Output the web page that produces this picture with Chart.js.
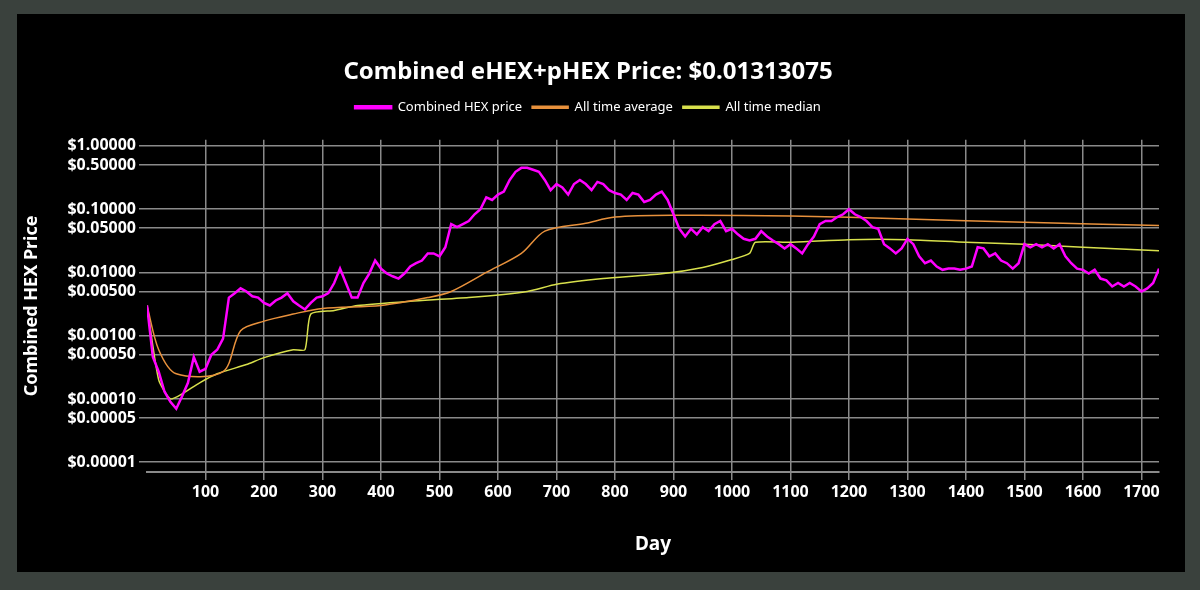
<!DOCTYPE html>
<html>
<head>
<script src="https://cdn.jsdelivr.net/npm/chart.js@4/dist/chart.umd.min.js"></script>
<style>
  body { margin: 0; background: #3a413d; }
  #panel { position: absolute; left: 17px; top: 14px; width: 1168px; height: 558px; background: #000; }
</style>
</head>
<body>
<div id="panel"><canvas id="c" width="1168" height="558"></canvas></div>
<script>
// price sampled every 10 days
const priceDays = [];
for (let d = 0; d <= 1730; d += 10) priceDays.push(d);
const price = [0.003, 0.00046, 0.00027, 0.00013, 0.00009, 0.00007, 0.00011, 0.00018, 0.00046, 0.00027,
  0.0003, 0.0005, 0.0006, 0.0009, 0.004, 0.0047, 0.0056, 0.005, 0.0042, 0.004,
  0.0033, 0.003, 0.0036, 0.004, 0.0047, 0.0035, 0.003, 0.0026, 0.0033, 0.004,
  0.0042, 0.0047, 0.0068, 0.0115, 0.0068, 0.004, 0.004, 0.0068, 0.0096, 0.0154,
  0.0115, 0.0096, 0.0087, 0.008, 0.0096, 0.0124, 0.014, 0.0154, 0.02, 0.02,
  0.018, 0.025, 0.058, 0.052, 0.058, 0.065, 0.083, 0.1, 0.154, 0.14,
  0.17, 0.19, 0.29, 0.39, 0.45, 0.45, 0.42, 0.39, 0.29, 0.2,
  0.25, 0.22, 0.17, 0.25, 0.29, 0.25, 0.2, 0.27, 0.25, 0.2,
  0.18, 0.17, 0.14, 0.18, 0.17, 0.13, 0.14, 0.17, 0.19, 0.14,
  0.083, 0.049, 0.037, 0.049, 0.04, 0.052, 0.045, 0.058, 0.065, 0.045,
  0.049, 0.04, 0.034, 0.032, 0.034, 0.045, 0.037, 0.032, 0.028, 0.024,
  0.028, 0.024, 0.02, 0.028, 0.037, 0.058, 0.065, 0.065, 0.075, 0.083,
  0.1, 0.083, 0.075, 0.065, 0.052, 0.049, 0.028, 0.024, 0.02, 0.024,
  0.034, 0.028, 0.018, 0.014, 0.0154, 0.0124, 0.011, 0.0115, 0.0115, 0.011,
  0.0115, 0.0124, 0.025, 0.024, 0.018, 0.02, 0.0154, 0.014, 0.0115, 0.014,
  0.028, 0.025, 0.028, 0.025, 0.028, 0.024, 0.028, 0.018, 0.014, 0.0115,
  0.011, 0.0096, 0.011, 0.008, 0.0075, 0.006, 0.0068, 0.006, 0.0068, 0.006,
  0.005, 0.0056, 0.0068, 0.0115];

const avgDays = [0, 20, 50, 130, 160, 200, 250, 300, 400, 480, 520, 580, 640, 680, 750, 800, 900, 1100, 1300, 1500, 1730];
const avg = [0.003, 0.0006, 0.00025, 0.00027, 0.0012, 0.0017, 0.0022, 0.0027, 0.003, 0.004, 0.005, 0.01, 0.02, 0.045, 0.06, 0.075, 0.08, 0.078, 0.07, 0.062, 0.055];

const medDays = [0, 20, 40, 60, 90, 120, 170, 200, 250, 270, 280, 320, 360, 450, 550, 650, 700, 780, 880, 950, 1000, 1030, 1040, 1100, 1200, 1300, 1400, 1500, 1600, 1730];
const median = [0.003, 0.0002, 0.0001, 0.00012, 0.00018, 0.00025, 0.00035, 0.00045, 0.0006, 0.0006, 0.0022, 0.0025, 0.003, 0.0035, 0.004, 0.005, 0.0065, 0.008, 0.0095, 0.012, 0.016, 0.02, 0.03, 0.03, 0.033, 0.033, 0.03, 0.028, 0.025, 0.022];

const yTicks = [1, 0.5, 0.1, 0.05, 0.01, 0.005, 0.001, 0.0005, 0.0001, 0.00005, 0.00001];
const xTicks = [100, 200, 300, 400, 500, 600, 700, 800, 900, 1000, 1100, 1200, 1300, 1400, 1500, 1600, 1700];

const pts = (xs, ys) => xs.map((x, i) => ({ x: x, y: ys[i] }));
const FONT = "'Noto Sans', sans-serif";

const legendGap = {
  id: 'legendGap',
  beforeInit(chart) {
    const fit = chart.legend.fit;
    chart.legend.fit = function () { fit.call(this); this.height += 16; };
  }
};

new Chart("c", {
  type: 'line',
  data: {
    datasets: [
      { label: 'Combined HEX price', data: pts(priceDays, price), borderColor: '#ff00ff', backgroundColor: '#ff00ff', borderWidth: 2.5, pointRadius: 0 },
      { label: 'All time average', data: pts(avgDays, avg), borderColor: '#e8913c', backgroundColor: '#e8913c', borderWidth: 1.5, pointRadius: 0, tension: 0.3 },
      { label: 'All time median', data: pts(medDays, median), borderColor: '#d8e04c', backgroundColor: '#d8e04c', borderWidth: 1.5, pointRadius: 0, tension: 0.2 }
    ]
  },
  options: {
    responsive: false,
    animation: false,
    layout: { padding: { top: 44, right: 26, bottom: 12 } },
    plugins: {
      title: { display: true, text: 'Combined eHEX+pHEX Price: $0.01313075', color: '#fff', font: { family: FONT, size: 24, weight: 'bold' }, padding: { bottom: 4 } },
      legend: { labels: { color: '#fff', font: { family: FONT, size: 13 }, boxWidth: 36, boxHeight: 2 } }
    },
    scales: {
      x: {
        type: 'linear', min: 0, max: 1730,
        afterBuildTicks: s => { s.ticks = xTicks.map(v => ({ value: v })); },
        ticks: { color: '#fff', font: { family: FONT, size: 16, weight: 'bold' }, callback: v => String(v) },
        grid: { color: '#8a8a8a', lineWidth: 1.5 },
        border: { color: '#8a8a8a', width: 2 },
        title: { display: true, text: 'Day', color: '#fff', font: { family: FONT, size: 19, weight: 'bold' }, padding: { top: 28 } }
      },
      y: {
        type: 'logarithmic', min: 0.000007, max: 1.25,
        afterBuildTicks: s => { s.ticks = yTicks.map(v => ({ value: v })); },
        afterFit: s => { s.width = 130; },
        ticks: { color: '#fff', font: { family: FONT, size: 16, weight: 'bold' }, callback: v => '$' + Number(v).toFixed(5) },
        grid: { color: '#8a8a8a', lineWidth: 1.5 },
        border: { display: false },
        title: { display: true, text: 'Combined HEX Price', color: '#fff', font: { family: FONT, size: 18, weight: 'bold' } }
      }
    }
  },
  plugins: [legendGap]
});
</script>
</body>
</html>
